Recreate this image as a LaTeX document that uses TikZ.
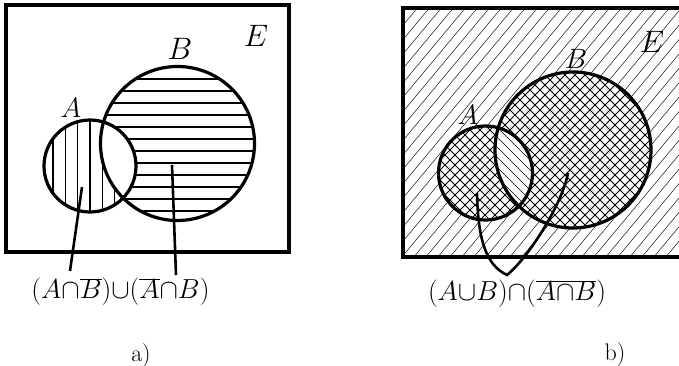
\RequirePackage{fix-cm}
\documentclass[tikz,border=0pt]{standalone}
\begin{document}
\begin{tikzpicture}[x=1pt,y=-1pt,
  outline/.style={line width=3.2pt},
  pointer/.style={line width=2.6pt},
  hatchthin/.style={line width=0.45pt},
  hatch/.style={line width=1pt},
  hatchab/.style={line width=1.4pt},
  setlabel/.style={font=\fontsize{31}{33}\selectfont, inner sep=0pt},
  setlabelsm/.style={font=\fontsize{28}{30}\selectfont, inner sep=0pt},
  formula/.style={font=\fontsize{27.5}{30}\selectfont, inner sep=0pt},
  capt/.style={font=\fontsize{24}{26}\selectfont, inner sep=0pt}]
\useasboundingbox (0,0) rectangle (679,366);

% ---------------- panel a ----------------
\def\LA{(90,166) circle[radius=46]}
\def\LB{(177.5,143.5) circle[radius=77]}
% vertical hatching in A minus B
\begin{scope}
  \clip \LA;
  \begin{scope}[even odd rule]
    \clip \LA \LB;
    \foreach \x in {53,65.3,...,135} \draw[hatchab] (\x,110) -- (\x,220);
  \end{scope}
\end{scope}
% horizontal hatching in B minus A
\begin{scope}
  \clip \LB;
  \begin{scope}[even odd rule]
    \clip \LA \LB;
    \foreach \y in {79,91,...,222} \draw[hatchab] (95,\y) -- (260,\y);
  \end{scope}
\end{scope}
\draw[outline] \LA;
\draw[outline] \LB;
\draw[outline] (6,5) rectangle (289,252);
\node[setlabelsm] (la) at (71,108) {$A$};
\node[setlabel] (lb) at (180,49) {$B$};
\node[setlabel] (le) at (256,36) {$E$};
\node[formula] (fa) at (120.5,292) {$(A{\cap}\overline{B}){\cup}(\overline{A}{\cap}B)$};
\coordinate (pa1) at (82,187);
\coordinate (ea1) at (70,271);
\coordinate (pa2) at (172,165);
\coordinate (ea2) at (176,275);
\draw[pointer] (pa1) -- (ea1);
\draw[pointer] (pa2) -- (ea2);
\node[capt] (ca) at (141,355) {$\mathrm{a})$};

% ---------------- panel b ----------------
\def\RA{(485.5,173) circle[radius=47]}
\def\RB{(573,150) circle[radius=78]}
% background "/" hatching
\begin{scope}
  \clip (403,8) rectangle (679,257);
  \foreach \c in {400,412,...,960} \draw[hatchthin] (\c,0) -- ({\c-250},300);
  \fill[white] \RA;
  \fill[white] \RB;
\end{scope}
% cross hatching in (A u B) minus (A n B)
\begin{scope}[even odd rule]
  \clip \RA \RB;
  \foreach \c in {500,510,...,900} \draw[hatch] (\c,0) -- ({\c-300},300);
  \foreach \c in {150,160,...,700} \draw[hatch] (\c,0) -- ({\c+300},300);
\end{scope}
% thin "\" hatching in A n B
\begin{scope}
  \clip \RA;
  \clip \RB;
  \foreach \c in {150,160,...,700} \draw[hatchthin] (\c,0) -- ({\c+300},300);
\end{scope}
\draw[outline] \RA;
\draw[outline] \RB;
\draw[outline] (679,8) -- (403,8) -- (403,257) -- (679,257);
\node[setlabelsm] (ra) at (468,115) {$A$};
\node[setlabelsm] (rb) at (576,59) {$B$};
\node[setlabel] (re) at (652,42) {$E$};
\node[formula] (fb) at (517,294) {$(A{\cup}B){\cap}(\overline{A{\cap}B})$};
\coordinate (pb1) at (477,193);
\coordinate (cusp) at (507,275);
\coordinate (pb2) at (568,173);
\draw[pointer, line join=miter] (pb1) .. controls (478,240) and (486,265) .. (cusp)
   .. controls (528,258) and (562,205) .. (pb2);
\node[capt] (cb) at (615,354) {$\mathrm{b})$};
\end{tikzpicture}
\end{document}
